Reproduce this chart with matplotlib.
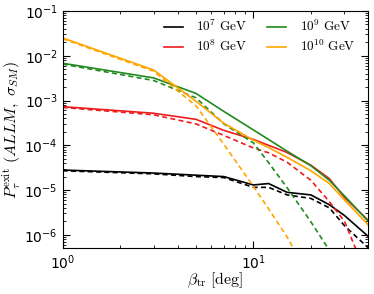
import matplotlib
matplotlib.use('Agg')
import matplotlib.pyplot as plt
import numpy as np

# beta_tr grid [deg]
beta = [1, 3, 5, 7, 10, 12, 15, 20, 25, 30, 40]

# solid curves
p7 = [2.8e-5, 2.4e-5, 2.15e-5, 2.0e-5, 1.3e-5, 1.4e-5, 8.9e-6, 7.8e-6, 4.7e-6, 2.7e-6, 9.2e-7]
p8 = [7.3e-4, 5.2e-4, 3.8e-4, 2.15e-4, 1.35e-4, 1.0e-4, 6.9e-5, 3.6e-5, 1.8e-5, 6.8e-6, 2.1e-6]
p9 = [6.8e-3, 3.2e-3, 1.44e-3, 5.7e-4, 2.2e-4, 1.35e-4, 7.4e-5, 3.5e-5, 1.65e-5, 7.4e-6, 2.0e-6]
p10 = [2.5e-2, 4.8e-3, 9.6e-4, 3.1e-4, 1.3e-4, 8.9e-5, 5.4e-5, 2.7e-5, 1.4e-5, 6.0e-6, 1.66e-6]

# dashed curves
d7 = [2.7e-5, 2.3e-5, 2.0e-5, 1.9e-5, 1.15e-5, 1.15e-5, 7.8e-6, 6.5e-6, 4.0e-6, 1.6e-6, 5.1e-7]
d8 = [7.0e-4, 4.8e-4, 3.0e-4, 1.66e-4, 8.7e-5, 6.8e-5, 4.2e-5, 1.65e-5, 5.5e-6, 2.0e-6, 1e-7]
d9 = [6.5e-3, 2.8e-3, 1.15e-3, 3.0e-4, 1.13e-4, 4.1e-5, 1.13e-5, 1.95e-6, 4.5e-7, 1e-7, 1e-8]
d10 = [2.4e-2, 4.5e-3, 7.6e-4, 1.05e-4, 1.2e-5, 3.8e-6, 9e-7, 1e-7, 1e-8, 1e-9, 1e-10]

labels = [r'$10^7\ \mathrm{GeV}$', r'$10^8\ \mathrm{GeV}$',
          r'$10^9\ \mathrm{GeV}$', r'$10^{10}\ \mathrm{GeV}$']
colors = ['black', '#ee1c1c', '#1f8a1f', '#ffa500']

fig = plt.figure(figsize=(3.74, 2.94), dpi=100)
ax = fig.add_axes([0.1676, 0.1554, 0.8172, 0.8072])

solid = [p7, p8, p9, p10]
dashed = [d7, d8, d9, d10]
for s, d, c, lab in zip(solid, dashed, colors, labels):
    ax.plot(beta, s, color=c, lw=1.2, label=lab)
    ax.plot(beta, d, color=c, lw=1.2, ls=(0, (3, 2)))

ax.set_xscale('log')
ax.set_yscale('log')
ax.set_xlim(1, 40)
ax.set_ylim(5e-7, 1e-1)
ax.tick_params(which='both', direction='in', top=True, right=True, labelsize=10)
ax.tick_params(which='major', length=5)
ax.tick_params(which='minor', length=2.5)

ax.set_xlabel(r'$\beta_{\rm tr}\ [\rm deg]$', fontsize=11.5, math_fontfamily='cm',
              va='center')
ax.set_ylabel(r'$P_\tau^{\rm exit}\ (ALLM,\ \sigma_{SM})$', fontsize=11.5,
              math_fontfamily='cm', va='center')
ax.xaxis.set_label_coords(0.5, -0.135)
ax.yaxis.set_label_coords(-0.165, 0.5)

leg = ax.legend(ncol=2, frameon=False, loc='upper right', fontsize=9.5,
                bbox_to_anchor=(1.0, 1.022),
                handlelength=1.45, handletextpad=1.0, columnspacing=1.5,
                borderaxespad=0.6, labelspacing=0.35)
for t in leg.get_texts():
    t.set_math_fontfamily('cm')

fig.savefig('out.png', dpi=100)
